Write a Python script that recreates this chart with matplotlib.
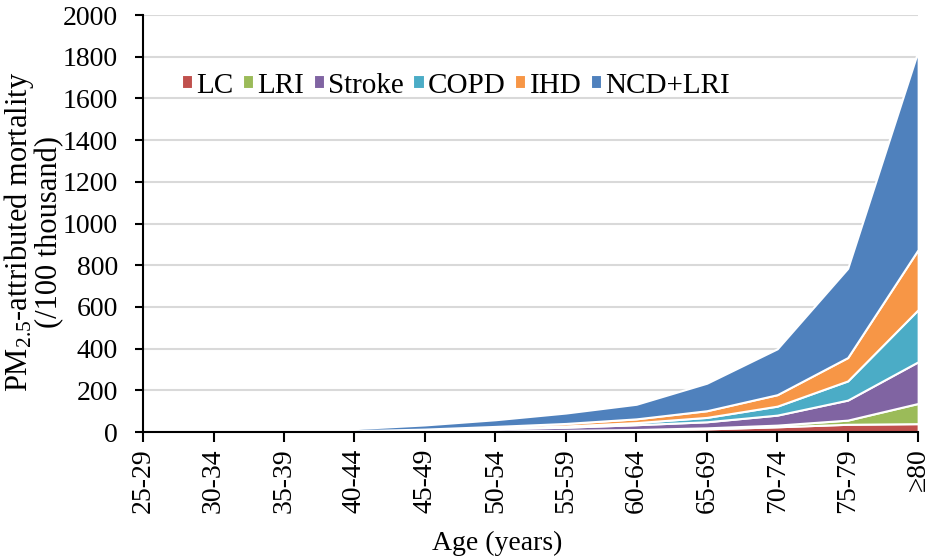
import matplotlib
matplotlib.use("Agg")
import matplotlib.pyplot as plt
import numpy as np

plt.rcParams['font.family'] = ['Liberation Serif', 'DejaVu Serif']
plt.rcParams['mathtext.fontset'] = 'custom'
plt.rcParams['mathtext.rm'] = 'Liberation Serif'
plt.rcParams['mathtext.it'] = 'Liberation Serif:italic'

ages = ["25-29", "30-34", "35-39", "40-44", "45-49", "50-54",
        "55-59", "60-64", "65-69", "70-74", "75-79", "≥80"]
series_names = ["LC", "LRI", "Stroke", "COPD", "IHD", "NCD+LRI"]
lc     = [0.0, 0.1, 0.3, 1.5, 3, 5, 7, 10, 15, 25, 37, 40]
lri    = [0.0, 0.0, 0.1, 0.3, 0.5, 0.8, 1, 2, 5, 8, 20, 97]
stroke = [0.0, 0.1, 0.4, 2, 5, 10, 15, 23, 29, 48, 96, 200]
copd   = [0.0, 0.0, 0.1, 0.5, 1.5, 3, 6, 10, 21, 43, 92, 250]
ihd    = [0.0, 0.1, 0.4, 1.7, 4, 8, 12, 18, 32, 55, 112, 288]
ncd    = [0.0, 0.2, 1.0, 10, 20, 32, 50, 70, 132, 220, 428, 955]
colors = ["#C0504D", "#9BBB59", "#8064A2", "#4BACC6", "#F79646", "#4F81BD"]

fig = plt.figure(figsize=(9.35, 5.58), dpi=100)
ax = fig.add_axes([0.153, 0.2258, 0.829, 0.7473])

x = np.arange(len(ages))
ax.stackplot(x, lc, lri, stroke, copd, ihd, ncd, colors=colors,
             labels=series_names, edgecolor='white', linewidth=1.5, zorder=2)

ax.set_xlim(0, len(ages) - 1)
ax.set_ylim(0, 2000)
ax.set_yticks(np.arange(0, 2001, 200))
ax.set_xticks(x)
ax.set_xticklabels(ages, rotation=90)
ax.grid(axis='y', color='#D9D9D9', linewidth=1.5, zorder=0)
ax.set_axisbelow(True)
for s in ['top', 'right']:
    ax.spines[s].set_visible(False)
for s in ['left', 'bottom']:
    ax.spines[s].set_color('black')
    ax.spines[s].set_linewidth(1.5)
    ax.spines[s].set_zorder(3)
ax.tick_params(axis='x', length=7, width=1.5, labelsize=20, pad=5)
ax.tick_params(axis='y', length=6, width=1.5, labelsize=20, pad=12)

fig.text(497 / 935, 1 - 550 / 558, "Age (years)", fontsize=20,
         ha='center', va='baseline')
fig.text(33 / 935, 0.585, "PM$_{2.5}$-attributed mortality\n(/100 thousand)",
         fontsize=22, rotation=90, ha='center', va='center', linespacing=0.92,
         multialignment='center')

ax.legend(loc='upper left', bbox_to_anchor=(0.05, 0.862), ncol=6, frameon=False,
          fontsize=21, handlelength=0.38, handleheight=0.38, handletextpad=0.12,
          columnspacing=0.32, borderaxespad=0, borderpad=0)

fig.savefig("out.png", dpi=100)
